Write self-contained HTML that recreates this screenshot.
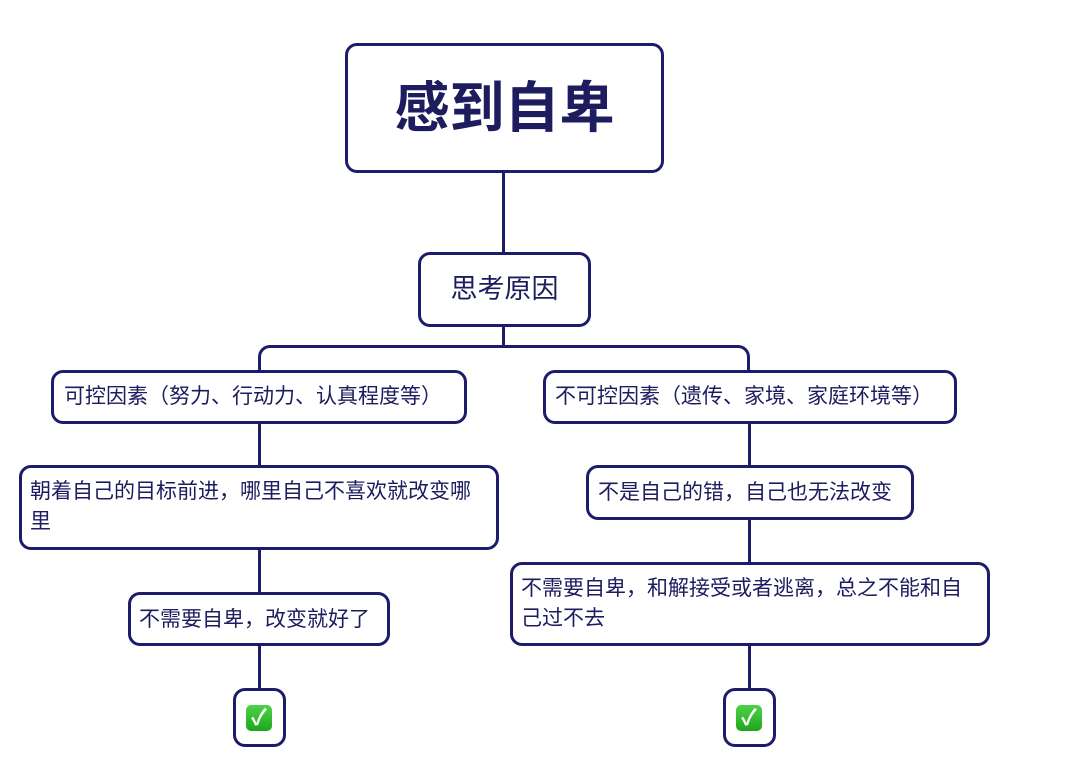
<!DOCTYPE html>
<html><head><meta charset="utf-8"><style>
html,body{margin:0;padding:0;background:#fff;}
body{width:1080px;height:781px;position:relative;overflow:hidden;font-family:"Liberation Sans","Noto Sans CJK SC",sans-serif;color:#1c1c5e;}
.b{position:absolute;box-sizing:border-box;border:3px solid #1c1c6a;border-radius:12px;background:#fff;}
.t{position:absolute;white-space:nowrap;font-size:21px;line-height:30px;}
.l{position:absolute;background:#1c1c6a;}
.ck{position:absolute;width:26px;height:26px;border-radius:5px;background:linear-gradient(#4fd24a,#1fa61c);color:#fff;font-size:22px;font-weight:bold;line-height:26px;text-align:center;}
</style></head><body>
<div class="l" style="left:502px;top:170px;width:3px;height:84px"></div>
<div class="l" style="left:502px;top:324px;width:3px;height:23px"></div>
<div style="position:absolute;left:258px;top:345px;width:492px;height:30px;box-sizing:border-box;border:3px solid #1c1c6a;border-bottom:none;border-radius:12px 12px 0 0"></div>
<div class="l" style="left:258px;top:421px;width:3px;height:46px"></div>
<div class="l" style="left:748px;top:421px;width:3px;height:46px"></div>
<div class="l" style="left:258px;top:547px;width:3px;height:47px"></div>
<div class="l" style="left:748px;top:517px;width:3px;height:47px"></div>
<div class="l" style="left:258px;top:643px;width:3px;height:47px"></div>
<div class="l" style="left:748px;top:643px;width:3px;height:47px"></div>

<div class="b" style="left:345px;top:43px;width:319px;height:130px"></div>
<div class="t" style="left:345px;width:319px;text-align:center;top:78px;font-size:55px;line-height:60px;font-weight:bold;">感到自卑</div>

<div class="b" style="left:418px;top:252px;width:173px;height:75px"></div>
<div class="t" style="left:418px;width:173px;text-align:center;top:274px;font-size:27px;">思考原因</div>

<div class="b" style="left:51px;top:370px;width:416px;height:54px"></div>
<div class="t" style="left:64px;top:382px;">可控因素（努力、行动力、认真程度等）</div>

<div class="b" style="left:543px;top:370px;width:414px;height:54px"></div>
<div class="t" style="left:555px;top:382px;">不可控因素（遗传、家境、家庭环境等）</div>

<div class="b" style="left:19px;top:465px;width:480px;height:85px"></div>
<div class="t" style="left:30px;top:477px;">朝着自己的目标前进，哪里自己不喜欢就改变哪<br>里</div>

<div class="b" style="left:586px;top:465px;width:328px;height:55px"></div>
<div class="t" style="left:598px;top:478px;">不是自己的错，自己也无法改变</div>

<div class="b" style="left:128px;top:592px;width:262px;height:54px"></div>
<div class="t" style="left:139px;top:605px;">不需要自卑，改变就好了</div>

<div class="b" style="left:510px;top:562px;width:480px;height:84px"></div>
<div class="t" style="left:521px;top:574px;">不需要自卑，和解接受或者逃离，总之不能和自<br>己过不去</div>

<div class="b" style="left:233px;top:688px;width:53px;height:59px"></div>
<div class="ck" style="left:246px;top:705px;">✓</div>
<div class="b" style="left:723px;top:688px;width:53px;height:59px"></div>
<div class="ck" style="left:736px;top:705px;">✓</div>
</body></html>
